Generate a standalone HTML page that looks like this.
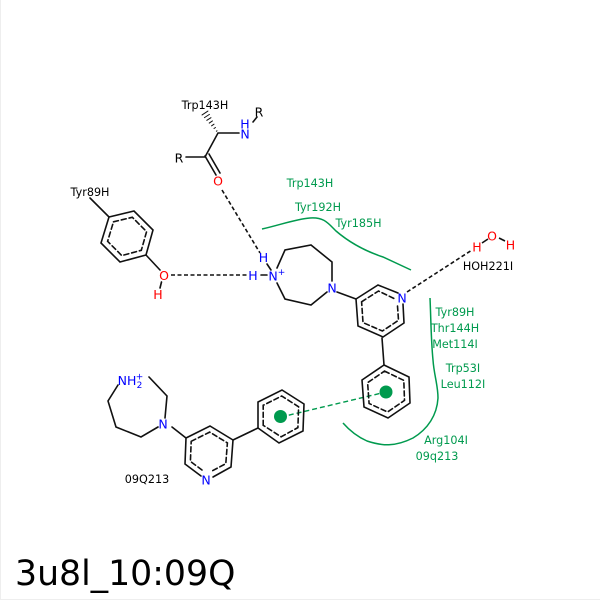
<!DOCTYPE html>
<html><head><meta charset="utf-8"><style>
html,body{margin:0;padding:0;background:#fff}
svg{display:block}
text{font-family:"DejaVu Sans",sans-serif;font-size:11.2px;text-anchor:middle}
.a{font-size:12.5px}
.g{fill:#009a4e}.k{fill:#000}.b{fill:#0000ff}.r{fill:#ff0000}
</style></head><body>
<svg width="600" height="600" viewBox="0 0 600 600" xmlns="http://www.w3.org/2000/svg">
<rect width="600" height="600" fill="#fff"/>
<path d="M0.5 0V599.5H600" fill="none" stroke="#eee" stroke-width="1"/>

<!-- green contours -->
<g fill="none" stroke="#009a4e" stroke-width="1.5">
<path d="M262 229C280 225 296 219 310 218C324 217 328 223 336 231C350 243 365 251 383 257L411 270"/>
<path d="M430 298C431 320 431 340 433 360C434 375 438 385 438 398C437 415 428 429 413 438C395 447 382 446 367 441C358 437 350 431 343 423"/>
<line x1="281" y1="417" x2="386" y2="392" stroke-dasharray="5 3" stroke-width="1.4"/>
</g>
<circle cx="386" cy="392" r="6.5" fill="#009a4e"/>
<circle cx="280.500" cy="416.500" r="6.5" fill="#009a4e"/>

<!-- black bonds -->
<g fill="none" stroke="#111" stroke-width="1.6" stroke-linecap="round">
<path d="M239 133H218L205 157H186"/>
<path d="M205 156L216 175M209 154L220 173"/>
<path d="M253 122L257 117"/>
<g stroke-width="1">
<line x1="216.400" y1="131.200" x2="217" y2="130.800"/>
<line x1="214" y1="128.500" x2="215.500" y2="127.500"/>
<line x1="211.600" y1="125.800" x2="214" y2="124.200"/>
<line x1="209.250" y1="123.050" x2="212.450" y2="120.950"/>
<line x1="206.840" y1="120.350" x2="210.960" y2="117.650"/>
<line x1="204.450" y1="117.640" x2="209.450" y2="114.360"/>
<line x1="202.060" y1="114.930" x2="207.940" y2="111.070"/>
</g>

<!-- Tyr89H -->
<path d="M90 198L109 217L134 211L153 230L146 255L120 262L101 243L109 217"/>
<path d="M146 255L160 270"/>
<path d="M113.500 221.800L132.300 217.300L146.600 231.600L141.300 250.300L121.800 255.600L107.600 241.300Z" stroke-dasharray="5 3"/>
<path d="M161.500 282L160 288"/>

<!-- diazepane top -->
<path d="M277 268L285 250L311 245L332 262L332 281"/>
<path d="M327 292L311 305L285 299L277 283"/>
<path d="M267 264L271 270M261 275H267"/>
<path d="M337 292L356 299"/>

<!-- pyridine top -->
<path d="M398 293L378 285L356 299L358 326L383 337L404 323L403 304"/>
<path d="M361.600 301.800L378.500 291L395 299M397.500 306L398.500 320.300L382.400 331L363 322.600L361.600 301.800" stroke-dasharray="5 3"/>
<path d="M382 338L384 365"/>

<!-- phenyl right -->
<path d="M384 365L409 377L410 403L388 418L364 407L362 380Z"/>
<path d="M384.500 371.100L403.800 380.400L404.500 400.400L387.600 412L369.100 403.500L367.600 382.700Z" stroke-dasharray="5 3"/>

<!-- lower diazepane -->
<path d="M149 377L167 396L165 418M158 427L141 437L116 427L108 401L118 385"/>
<path d="M172 427L186 438"/>

<!-- lower pyridine -->
<path d="M186 438L210 426L233 440L231 467L213 477M201 476L185 464L186 438"/>
<path d="M191.200 441.300L209.700 432.100L227.400 442.900L225.800 463.700L212 471M202 470L190.400 461.400L191.200 441.300" stroke-dasharray="5 3"/>
<path d="M233 440L258 428"/>

<!-- lower phenyl -->
<path d="M258 428L258 402L282 390L304 404L303 431L279 443Z"/>
<path d="M263.200 425.300L263.200 405.300L281.700 396L298.600 406.800L297.900 427.600L281.100 436.800Z" stroke-dasharray="5 3"/>
</g>

<!-- hydrogen bonds -->
<g fill="none" stroke="#111" stroke-width="1.6" stroke-dasharray="4 2.500">
<line x1="222" y1="190" x2="260" y2="253"/>
<line x1="171" y1="275" x2="247" y2="275"/>
<line x1="407" y1="292" x2="472" y2="250"/>
</g>
<g fill="none" stroke="#111" stroke-width="1.6">
<path d="M482 243L488 239M499 238L505 241"/>
</g>

<!-- labels -->
<text class="k" x="205" y="109">Trp143H</text>
<text class="k a" x="259" y="116.500">R</text>
<text class="b a" x="245" y="128.500">H</text>
<text class="b a" x="245" y="138.500">N</text>
<text class="k a" x="179" y="162.500">R</text>
<text class="r a" x="218" y="185.500">O</text>
<text class="k" x="90" y="196">Tyr89H</text>
<text class="r a" x="164" y="280">O</text>
<text class="r a" x="158" y="299">H</text>
<text class="b a" x="263.500" y="262">H</text>
<text class="b a" x="253" y="280">H</text>
<text class="b a" x="273" y="280.500">N</text>
<text class="b" x="281.500" y="275" style="font-size:9px">+</text>
<text class="b a" x="332" y="292.500">N</text>
<text class="b a" x="402" y="302.500">N</text>
<text class="r a" x="477" y="251.500">H</text>
<text class="r a" x="492" y="240.500">O</text>
<text class="r a" x="510.500" y="249.500">H</text>
<text class="k" x="488" y="270">HOH221I</text>

<text class="g" x="310" y="187">Trp143H</text>
<text class="g" x="318" y="211">Tyr192H</text>
<text class="g" x="358.500" y="227">Tyr185H</text>
<text class="g" x="455" y="316">Tyr89H</text>
<text class="g" x="455" y="332">Thr144H</text>
<text class="g" x="455" y="348">Met114I</text>
<text class="g" x="463" y="372">Trp53I</text>
<text class="g" x="463" y="388">Leu112I</text>
<text class="g" x="446" y="444">Arg104I</text>
<text class="g" x="437" y="460">09q213</text>

<text class="b a" x="127" y="385">NH</text>
<text class="b" x="139.500" y="388" style="font-size:9px">2</text>
<text class="b" x="139.500" y="379.500" style="font-size:9px">+</text>
<text class="b a" x="163" y="428.500">N</text>
<text class="b a" x="206" y="484.500">N</text>
<text class="k" x="147" y="483">09Q213</text>

<text x="15" y="585" style="font-size:34.700px;text-anchor:start;fill:#000">3u8l_10:09Q</text>
</svg>
</body></html>
